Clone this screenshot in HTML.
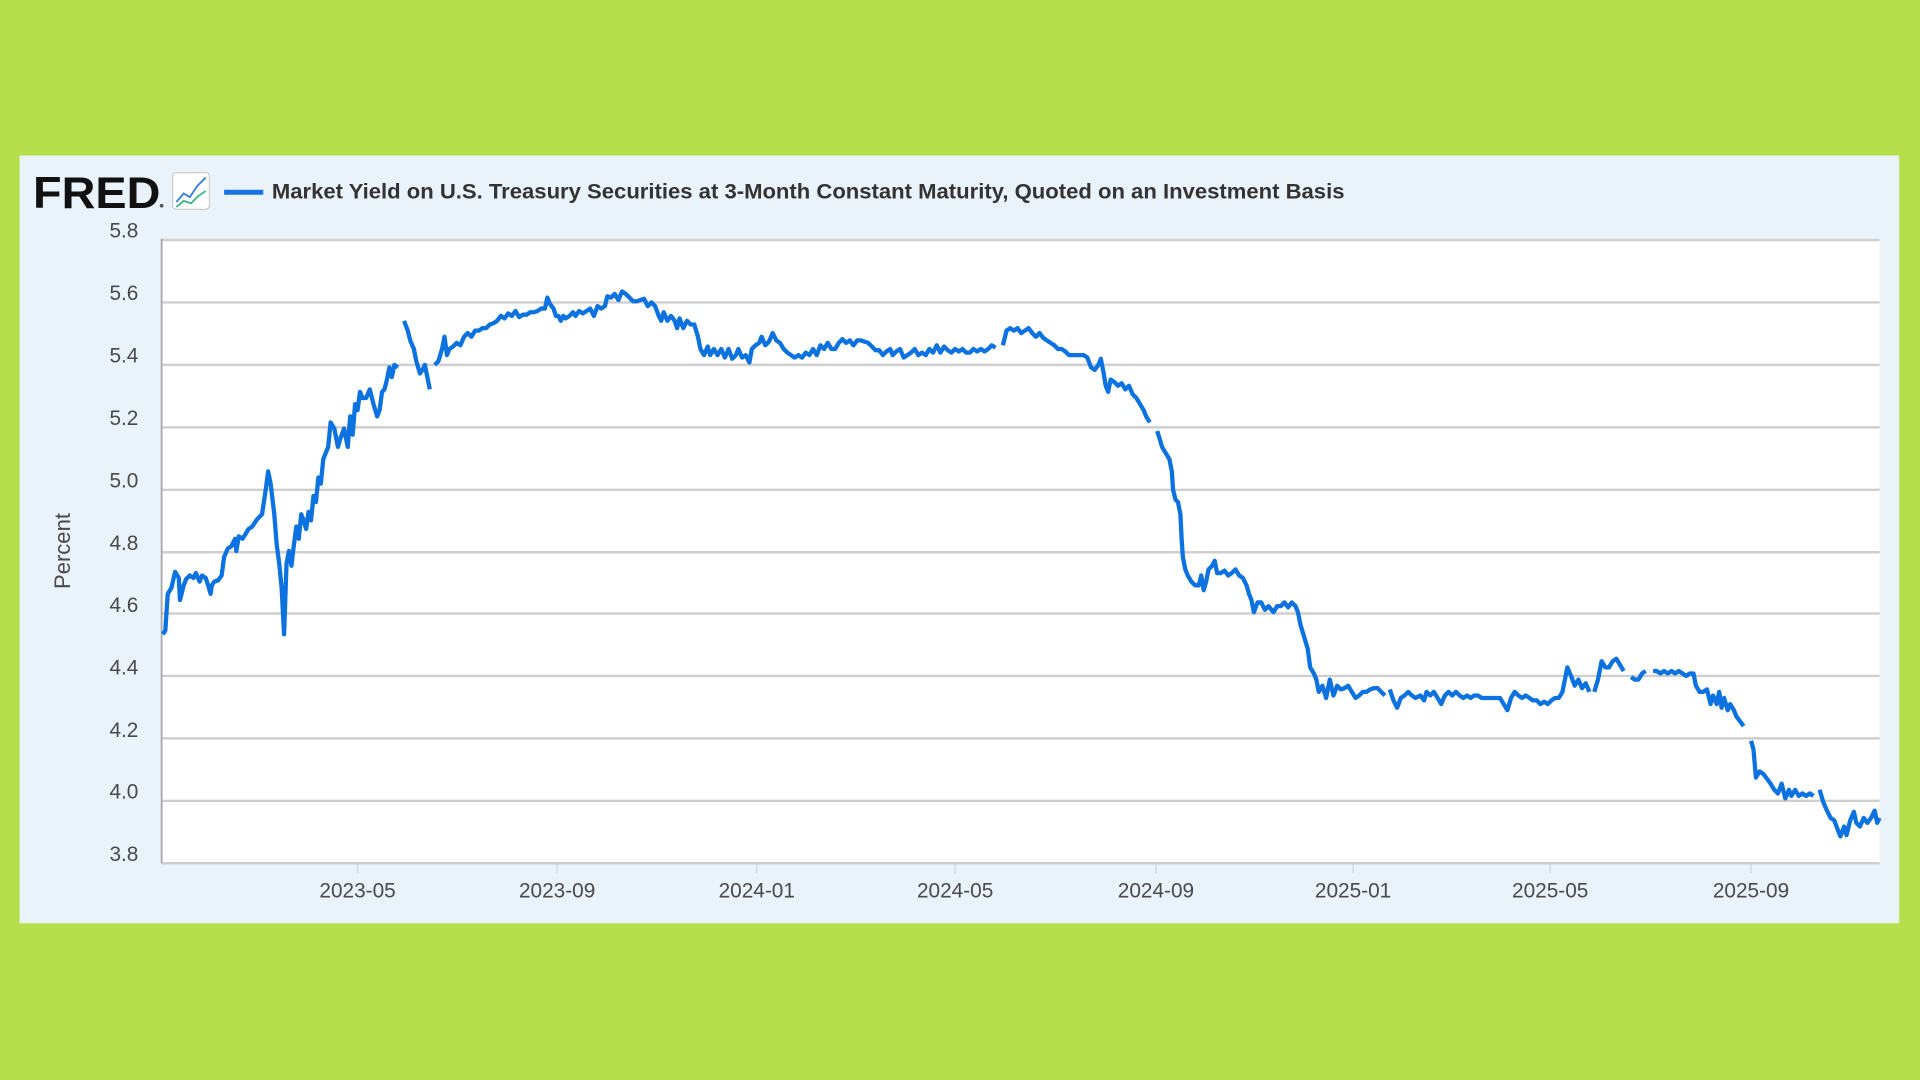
<!DOCTYPE html>
<html><head><meta charset="utf-8"><style>
html,body{margin:0;padding:0;width:1920px;height:1080px;overflow:hidden;background:#b5df4a}
svg{display:block}
</style></head><body>
<svg width="1920" height="1080" viewBox="0 0 1568 882" preserveAspectRatio="none" xmlns="http://www.w3.org/2000/svg">
<rect x="0" y="0" width="1568" height="882" fill="#b5df4a"/>
<rect x="16" y="127" width="1535" height="627" fill="#eaf2fa"/>
<text x="27" y="170" font-family="Liberation Sans, sans-serif" font-weight="bold" font-size="36" fill="#111" textLength="104" lengthAdjust="spacingAndGlyphs">FRED</text>
<circle cx="132" cy="168" r="1.5" fill="#555"/>
<rect x="141" y="141" width="30" height="30" rx="3" fill="#fff" stroke="#ccc"/>
<polyline points="144,165 150,158 155,161 161,152 168,145" fill="none" stroke="#3b7ddd" stroke-width="1.5"/>
<polyline points="144,169 150,164 156,166 162,160 168,156" fill="none" stroke="#3bb58a" stroke-width="1.5"/>
<line x1="183" y1="157" x2="215" y2="157" stroke="#1a73e0" stroke-width="4"/>
<text x="222" y="162" font-family="Liberation Sans, sans-serif" font-weight="bold" font-size="17" fill="#333" textLength="876" lengthAdjust="spacingAndGlyphs">Market Yield on U.S. Treasury Securities at 3-Month Constant Maturity, Quoted on an Investment Basis</text>
<rect x="132" y="195" width="1403" height="510" fill="#fff"/>
<g stroke="#cfcfcf" stroke-width="2">
<line x1="132" y1="196" x2="1535" y2="196"/><line x1="132" y1="247" x2="1535" y2="247"/>
<line x1="132" y1="298" x2="1535" y2="298"/><line x1="132" y1="349" x2="1535" y2="349"/>
<line x1="132" y1="400" x2="1535" y2="400"/><line x1="132" y1="451" x2="1535" y2="451"/>
<line x1="132" y1="501" x2="1535" y2="501"/><line x1="132" y1="552" x2="1535" y2="552"/>
<line x1="132" y1="603" x2="1535" y2="603"/><line x1="132" y1="654" x2="1535" y2="654"/>
<line x1="132" y1="705" x2="1535" y2="705"/>
</g>
<line x1="132" y1="195" x2="132" y2="705" stroke="#aaa" stroke-width="1.5"/>
<g stroke="#ccd6e0" stroke-width="1">
<line x1="292" y1="706" x2="292" y2="713"/><line x1="455" y1="706" x2="455" y2="713"/><line x1="618" y1="706" x2="618" y2="713"/><line x1="780" y1="706" x2="780" y2="713"/><line x1="944" y1="706" x2="944" y2="713"/><line x1="1105" y1="706" x2="1105" y2="713"/><line x1="1266" y1="706" x2="1266" y2="713"/><line x1="1430" y1="706" x2="1430" y2="713"/>
</g>
<g font-family="Liberation Sans, sans-serif" font-size="17" fill="#4a4a4a" text-anchor="end">
<text x="113" y="194">5.8</text><text x="113" y="245">5.6</text><text x="113" y="296">5.4</text><text x="113" y="347">5.2</text><text x="113" y="398">5.0</text><text x="113" y="449">4.8</text><text x="113" y="500">4.6</text><text x="113" y="551">4.4</text><text x="113" y="602">4.2</text><text x="113" y="652">4.0</text><text x="113" y="703">3.8</text>
</g>
<g font-family="Liberation Sans, sans-serif" font-size="17" fill="#4a4a4a" text-anchor="middle">
<text x="292" y="733">2023-05</text><text x="455" y="733">2023-09</text><text x="618" y="733">2024-01</text><text x="780" y="733">2024-05</text><text x="944" y="733">2024-09</text><text x="1105" y="733">2025-01</text><text x="1266" y="733">2025-05</text><text x="1430" y="733">2025-09</text>
</g>
<text transform="translate(57,450) rotate(-90)" font-family="Liberation Sans, sans-serif" font-size="18" fill="#4a4a4a" text-anchor="middle">Percent</text>
<path fill="none" stroke="#0b72e0" stroke-width="3.5" stroke-linejoin="round" d="
M133,518 L135,515 137,485 140,480 143,467 146,472 147,490 150,478 152,473 155,470 158,472 160,468 163,475 165,470 168,472 170,478 172,485 173,478 175,475 178,474 181,470 183,455 186,448 189,446 192,440 193,450 195,438 198,440 200,437 203,432 206,430 210,424 214,420 217,400 219,385 221,395 224,420 226,445 228,460 230,480 232,518 234,460 236,450 238,462 240,445 242,430 244,440 246,420 248,425 250,432 252,418 254,425 256,405 258,410 260,390 262,395 264,375 266,370 268,365 270,345 273,350 276,365 278,358 281,350 284,365 286,340 288,355 290,330 292,335 294,320 296,325 299,325 302,318 305,330 308,340 310,335 312,320 314,318 316,310 318,300 320,308 322,298 325,300
M330,262 L333,270 335,278 338,285 340,295 343,305 345,302 347,298 349,308 351,318
M355,298 L358,295 361,285 363,275 365,290 367,285 370,283 373,280 376,282 379,275 382,272 385,275 388,270 391,270 394,268 397,268 400,265 403,264 406,262 409,258 412,260 415,256 418,258 421,254 424,259 427,257 430,257 433,255 436,255 439,254 442,252 445,252 447,243 449,248 452,252 454,258 456,258 458,262 460,258 462,260 465,258 468,255 470,258 473,254 476,256 479,254 482,252 485,258 488,250 491,252 494,250 496,242 499,243 502,240 505,245 508,238 511,240 514,243 517,246 520,246 523,245 526,244 529,250 532,247 535,250 538,258 540,262 542,255 545,262 548,258 551,262 553,268 555,260 558,268 561,262 564,265 567,265 570,275 572,285 575,290 578,283 580,290 583,285 586,290 589,285 592,292 595,285 598,293 601,290 603,285 606,292 609,290 612,296 614,285 617,282 620,280 622,275 625,282 628,279 631,272 634,278 637,280 640,285 643,288 646,290 649,292 652,290 655,292 658,288 661,290 664,285 667,290 670,282 673,285 676,280 679,285 682,285 685,280 688,277 691,280 694,278 697,282 700,278 703,278 706,279 709,280 712,283 715,286 718,286 721,290 724,287 727,285 729,290 732,287 735,285 738,292 741,290 744,288 747,285 750,290 753,288 756,290 759,285 762,288 765,282 768,288 771,283 774,286 777,288 780,285 783,287 786,285 789,288 792,288 795,285 798,287 801,285 804,287 807,285 810,282 813,284
M819,282 L822,270 825,268 828,270 831,268 834,272 837,270 840,268 843,272 846,275 849,272 852,276 855,278 858,280 861,282 864,285 867,285 870,287 873,290 876,290 879,290 882,290 885,290 888,292 891,300 894,302 897,298 899,293 901,303 903,315 905,320 907,310 910,312 913,315 916,313 919,318 922,315 925,322 928,325 931,330 934,335 936,340 939,345
M945,352 L947,358 949,365 952,370 955,375 957,385 958,400 960,408 962,410 964,420 965,440 966,455 968,465 970,470 973,475 976,478 979,478 981,470 983,482 985,475 987,465 990,462 992,458 994,468 997,468 1000,466 1003,470 1006,468 1009,465 1012,470 1015,472 1018,478 1020,485 1022,490 1024,500 1027,492 1030,492 1033,498 1036,495 1040,500 1043,495 1046,495 1049,492 1052,496 1055,492 1058,495 1060,500 1062,510 1065,520 1068,530 1070,545 1073,550 1075,555 1077,565 1080,560 1083,570 1086,555 1089,568 1092,560 1095,563 1098,562 1101,560 1104,565 1107,570 1110,568 1113,565 1116,565 1119,563 1122,562 1125,562 1128,565 1131,568
M1135,563 L1138,572 1141,578 1144,570 1147,568 1150,565 1153,568 1156,570 1160,568 1163,572 1165,565 1168,568 1171,565 1174,570 1177,575 1180,568 1183,565 1186,568 1189,565 1192,568 1195,570 1198,568 1201,570 1204,568 1207,568 1210,570 1213,570 1216,570 1219,570 1222,570 1225,570 1228,575 1231,580 1234,570 1237,565 1240,568 1243,570 1246,568 1249,570 1252,572 1255,572 1258,575 1261,573 1264,575 1267,572 1270,570 1273,570 1276,565 1278,555 1280,545 1283,552 1286,560 1289,555 1292,562 1295,558 1298,565
M1302,565 L1305,555 1308,540 1311,545 1314,545 1317,540 1320,538 1323,543 1326,548
M1332,553 L1335,555 1338,555 1341,550 1344,548
M1350,548 L1353,548 1356,550 1359,548 1362,550 1365,548 1368,550 1371,548 1374,550 1377,552 1380,550 1383,550 1385,560 1388,565 1391,565 1394,563 1397,575 1399,568 1402,575 1404,565 1406,578 1408,570 1411,580 1413,575 1416,580 1418,585 1424,593
M1430,605 L1432,612 1434,635 1437,630 1440,632 1443,636 1446,640 1449,645 1452,648 1455,640 1458,652 1461,645 1463,650 1466,645 1469,650 1472,648 1475,650 1478,648 1481,650
M1486,645 L1489,655 1492,662 1495,668 1498,670 1501,678 1503,683 1506,675 1508,682 1511,670 1514,663 1516,672 1519,675 1522,668 1525,672 1528,668 1531,662 1533,672 1535,668"/>
</svg>
</body></html>
